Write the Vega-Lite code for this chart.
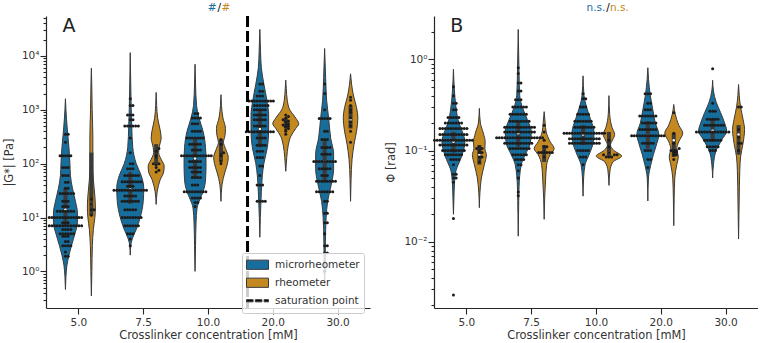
{"$schema":"https://vega.github.io/schema/vega-lite/v6.json","background":"white","padding":{"left":3,"top":2,"right":0,"bottom":0},"bounds":"flush","spacing":64,
"config":{"view":{"stroke":null},"font":"DejaVu Sans","axis":{"grid":false,"domainColor":"#262626","domainWidth":1.2,"tickColor":"#262626","tickWidth":1.1,"labelColor":"#333333","titleColor":"#333333","labelFont":"DejaVu Sans","titleFont":"DejaVu Sans","labelFontSize":10.5,"titleFontSize":11.4,"titleFontWeight":"normal","labelOverlap":false,"labelFlush":false}},
"datasets":{
"violinA":[
{"c":5,"d":"m","v":0.46,"w":0},{"c":5,"d":"m","v":0.8,"w":0.5},{"c":5,"d":"m","v":1.3,"w":1.5},{"c":5,"d":"m","v":2,"w":3.5},{"c":5,"d":"m","v":3,"w":6},{"c":5,"d":"m","v":5,"w":9.5},{"c":5,"d":"m","v":8,"w":12},{"c":5,"d":"m","v":12,"w":12},{"c":5,"d":"m","v":20,"w":10},{"c":5,"d":"m","v":35,"w":7},{"c":5,"d":"m","v":60,"w":5},{"c":5,"d":"m","v":100,"w":4.5},{"c":5,"d":"m","v":200,"w":3.5},{"c":5,"d":"m","v":400,"w":2},{"c":5,"d":"m","v":700,"w":1},{"c":5,"d":"m","v":1000,"w":0.5},{"c":5,"d":"m","v":1600,"w":0},
{"c":5,"d":"r","v":0.35,"w":0},{"c":5,"d":"r","v":1,"w":0.5},{"c":5,"d":"r","v":3,"w":1},{"c":5,"d":"r","v":6,"w":2},{"c":5,"d":"r","v":10,"w":3.5},{"c":5,"d":"r","v":15,"w":4},{"c":5,"d":"r","v":25,"w":3.5},{"c":5,"d":"r","v":50,"w":2},{"c":5,"d":"r","v":100,"w":1.5},{"c":5,"d":"r","v":300,"w":1.5},{"c":5,"d":"r","v":1000,"w":0.8},{"c":5,"d":"r","v":3000,"w":0.4},{"c":5,"d":"r","v":5900,"w":0},
{"c":7.5,"d":"m","v":2,"w":0},{"c":7.5,"d":"m","v":3,"w":0.5},{"c":7.5,"d":"m","v":4,"w":2},{"c":7.5,"d":"m","v":6,"w":6},{"c":7.5,"d":"m","v":10,"w":10},{"c":7.5,"d":"m","v":20,"w":13},{"c":7.5,"d":"m","v":35,"w":13.5},{"c":7.5,"d":"m","v":60,"w":11},{"c":7.5,"d":"m","v":100,"w":6},{"c":7.5,"d":"m","v":200,"w":2.5},{"c":7.5,"d":"m","v":500,"w":1.5},{"c":7.5,"d":"m","v":1000,"w":1},{"c":7.5,"d":"m","v":3000,"w":0.5},{"c":7.5,"d":"m","v":11500,"w":0},
{"c":7.5,"d":"r","v":17.5,"w":0},{"c":7.5,"d":"r","v":30,"w":1},{"c":7.5,"d":"r","v":50,"w":4},{"c":7.5,"d":"r","v":70,"w":7.5},{"c":7.5,"d":"r","v":90,"w":8},{"c":7.5,"d":"r","v":120,"w":5},{"c":7.5,"d":"r","v":160,"w":2.5},{"c":7.5,"d":"r","v":200,"w":3},{"c":7.5,"d":"r","v":300,"w":5},{"c":7.5,"d":"r","v":420,"w":4},{"c":7.5,"d":"r","v":700,"w":1.5},{"c":7.5,"d":"r","v":1200,"w":0.5},{"c":7.5,"d":"r","v":2100,"w":0},
{"c":10,"d":"m","v":1,"w":0},{"c":10,"d":"m","v":3,"w":0.5},{"c":10,"d":"m","v":8,"w":1},{"c":10,"d":"m","v":15,"w":2},{"c":10,"d":"m","v":22,"w":5},{"c":10,"d":"m","v":30,"w":8},{"c":10,"d":"m","v":50,"w":10.5},{"c":10,"d":"m","v":100,"w":11},{"c":10,"d":"m","v":200,"w":10.5},{"c":10,"d":"m","v":400,"w":8},{"c":10,"d":"m","v":700,"w":4},{"c":10,"d":"m","v":1200,"w":1.5},{"c":10,"d":"m","v":3000,"w":0.5},{"c":10,"d":"m","v":7000,"w":0},
{"c":10,"d":"r","v":20,"w":0},{"c":10,"d":"r","v":40,"w":1},{"c":10,"d":"r","v":70,"w":4},{"c":10,"d":"r","v":100,"w":6.5},{"c":10,"d":"r","v":130,"w":7.3},{"c":10,"d":"r","v":190,"w":4.5},{"c":10,"d":"r","v":250,"w":2.5},{"c":10,"d":"r","v":330,"w":4},{"c":10,"d":"r","v":450,"w":4.5},{"c":10,"d":"r","v":700,"w":2},{"c":10,"d":"r","v":1200,"w":0.5},{"c":10,"d":"r","v":1900,"w":0},
{"c":20,"d":"m","v":4.3,"w":0},{"c":20,"d":"m","v":10,"w":0.5},{"c":20,"d":"m","v":30,"w":1.5},{"c":20,"d":"m","v":60,"w":2.5},{"c":20,"d":"m","v":100,"w":4},{"c":20,"d":"m","v":200,"w":7.5},{"c":20,"d":"m","v":400,"w":8.8},{"c":20,"d":"m","v":800,"w":8.8},{"c":20,"d":"m","v":1500,"w":7},{"c":20,"d":"m","v":3000,"w":4},{"c":20,"d":"m","v":6000,"w":1.5},{"c":20,"d":"m","v":12000,"w":0.7},{"c":20,"d":"m","v":31000,"w":0},
{"c":20,"d":"r","v":72,"w":0},{"c":20,"d":"r","v":130,"w":1},{"c":20,"d":"r","v":220,"w":2.5},{"c":20,"d":"r","v":320,"w":5},{"c":20,"d":"r","v":450,"w":10},{"c":20,"d":"r","v":550,"w":13},{"c":20,"d":"r","v":700,"w":10},{"c":20,"d":"r","v":1000,"w":4},{"c":20,"d":"r","v":1500,"w":1.5},{"c":20,"d":"r","v":2500,"w":0.5},{"c":20,"d":"r","v":3550,"w":0},
{"c":30,"d":"m","v":0.57,"w":0},{"c":30,"d":"m","v":1,"w":0.4},{"c":30,"d":"m","v":3,"w":0.7},{"c":30,"d":"m","v":6,"w":1},{"c":30,"d":"m","v":10,"w":1.5},{"c":30,"d":"m","v":20,"w":3},{"c":30,"d":"m","v":40,"w":6.5},{"c":30,"d":"m","v":80,"w":9},{"c":30,"d":"m","v":150,"w":9},{"c":30,"d":"m","v":300,"w":6},{"c":30,"d":"m","v":700,"w":4},{"c":30,"d":"m","v":1500,"w":2},{"c":30,"d":"m","v":4000,"w":1},{"c":30,"d":"m","v":13700,"w":0},
{"c":30,"d":"r","v":20,"w":0},{"c":30,"d":"r","v":50,"w":0.5},{"c":30,"d":"r","v":120,"w":1.5},{"c":30,"d":"r","v":230,"w":3.5},{"c":30,"d":"r","v":400,"w":6},{"c":30,"d":"r","v":700,"w":7.3},{"c":30,"d":"r","v":1100,"w":6},{"c":30,"d":"r","v":1800,"w":3},{"c":30,"d":"r","v":3000,"w":1},{"c":30,"d":"r","v":4650,"w":0}],
"violinB":[
{"c":5,"d":"m","v":0.02,"w":0},{"c":5,"d":"m","v":0.03,"w":0.5},{"c":5,"d":"m","v":0.043,"w":1},{"c":5,"d":"m","v":0.06,"w":2.5},{"c":5,"d":"m","v":0.08,"w":7},{"c":5,"d":"m","v":0.1,"w":10},{"c":5,"d":"m","v":0.125,"w":11.5},{"c":5,"d":"m","v":0.16,"w":9},{"c":5,"d":"m","v":0.2,"w":5.5},{"c":5,"d":"m","v":0.3,"w":2.5},{"c":5,"d":"m","v":0.45,"w":1},{"c":5,"d":"m","v":0.78,"w":0},
{"c":5,"d":"r","v":0.0236,"w":0},{"c":5,"d":"r","v":0.035,"w":0.6},{"c":5,"d":"r","v":0.05,"w":2},{"c":5,"d":"r","v":0.07,"w":5},{"c":5,"d":"r","v":0.09,"w":7},{"c":5,"d":"r","v":0.105,"w":5.5},{"c":5,"d":"r","v":0.125,"w":5.8},{"c":5,"d":"r","v":0.155,"w":4},{"c":5,"d":"r","v":0.2,"w":1},{"c":5,"d":"r","v":0.29,"w":0},
{"c":7.5,"d":"m","v":0.0115,"w":0},{"c":7.5,"d":"m","v":0.02,"w":0.3},{"c":7.5,"d":"m","v":0.04,"w":0.8},{"c":7.5,"d":"m","v":0.07,"w":3},{"c":7.5,"d":"m","v":0.09,"w":7},{"c":7.5,"d":"m","v":0.12,"w":12},{"c":7.5,"d":"m","v":0.16,"w":13},{"c":7.5,"d":"m","v":0.22,"w":9},{"c":7.5,"d":"m","v":0.3,"w":4},{"c":7.5,"d":"m","v":0.4,"w":1.5},{"c":7.5,"d":"m","v":0.7,"w":0.8},{"c":7.5,"d":"m","v":1.2,"w":0.4},{"c":7.5,"d":"m","v":2.13,"w":0},
{"c":7.5,"d":"r","v":0.0176,"w":0},{"c":7.5,"d":"r","v":0.03,"w":0.5},{"c":7.5,"d":"r","v":0.05,"w":1.5},{"c":7.5,"d":"r","v":0.07,"w":2.5},{"c":7.5,"d":"r","v":0.09,"w":6},{"c":7.5,"d":"r","v":0.105,"w":10},{"c":7.5,"d":"r","v":0.125,"w":6},{"c":7.5,"d":"r","v":0.16,"w":2},{"c":7.5,"d":"r","v":0.2,"w":1},{"c":7.5,"d":"r","v":0.267,"w":0},
{"c":10,"d":"m","v":0.0316,"w":0},{"c":10,"d":"m","v":0.05,"w":0.6},{"c":10,"d":"m","v":0.07,"w":2},{"c":10,"d":"m","v":0.09,"w":6},{"c":10,"d":"m","v":0.12,"w":10},{"c":10,"d":"m","v":0.16,"w":11},{"c":10,"d":"m","v":0.22,"w":7.5},{"c":10,"d":"m","v":0.3,"w":3.5},{"c":10,"d":"m","v":0.4,"w":1},{"c":10,"d":"m","v":0.66,"w":0},
{"c":10,"d":"r","v":0.0415,"w":0},{"c":10,"d":"r","v":0.06,"w":1},{"c":10,"d":"r","v":0.075,"w":4},{"c":10,"d":"r","v":0.087,"w":12.7},{"c":10,"d":"r","v":0.1,"w":5},{"c":10,"d":"r","v":0.115,"w":1.5},{"c":10,"d":"r","v":0.13,"w":3.5},{"c":10,"d":"r","v":0.15,"w":5.7},{"c":10,"d":"r","v":0.18,"w":3},{"c":10,"d":"r","v":0.25,"w":0.7},{"c":10,"d":"r","v":0.4,"w":0},
{"c":20,"d":"m","v":0.028,"w":0},{"c":20,"d":"m","v":0.05,"w":0.6},{"c":20,"d":"m","v":0.07,"w":3},{"c":20,"d":"m","v":0.09,"w":5.5},{"c":20,"d":"m","v":0.12,"w":9},{"c":20,"d":"m","v":0.15,"w":11},{"c":20,"d":"m","v":0.2,"w":7.5},{"c":20,"d":"m","v":0.28,"w":5},{"c":20,"d":"m","v":0.4,"w":2.5},{"c":20,"d":"m","v":0.6,"w":0.7},{"c":20,"d":"m","v":0.81,"w":0},
{"c":20,"d":"r","v":0.015,"w":0},{"c":20,"d":"r","v":0.03,"w":0.4},{"c":20,"d":"r","v":0.05,"w":1},{"c":20,"d":"r","v":0.07,"w":3},{"c":20,"d":"r","v":0.085,"w":4.5},{"c":20,"d":"r","v":0.105,"w":3},{"c":20,"d":"r","v":0.125,"w":5},{"c":20,"d":"r","v":0.155,"w":9},{"c":20,"d":"r","v":0.19,"w":5},{"c":20,"d":"r","v":0.25,"w":1.5},{"c":20,"d":"r","v":0.32,"w":0},
{"c":30,"d":"m","v":0.05,"w":0},{"c":30,"d":"m","v":0.07,"w":0.8},{"c":30,"d":"m","v":0.1,"w":3.5},{"c":30,"d":"m","v":0.13,"w":9},{"c":30,"d":"m","v":0.165,"w":14},{"c":30,"d":"m","v":0.2,"w":12},{"c":30,"d":"m","v":0.26,"w":8},{"c":30,"d":"m","v":0.34,"w":3.5},{"c":30,"d":"m","v":0.45,"w":0.8},{"c":30,"d":"m","v":0.59,"w":0},
{"c":30,"d":"r","v":0.0107,"w":0},{"c":30,"d":"r","v":0.02,"w":0.4},{"c":30,"d":"r","v":0.04,"w":0.8},{"c":30,"d":"r","v":0.06,"w":1.2},{"c":30,"d":"r","v":0.085,"w":2},{"c":30,"d":"r","v":0.12,"w":4.5},{"c":30,"d":"r","v":0.17,"w":6},{"c":30,"d":"r","v":0.22,"w":4.5},{"c":30,"d":"r","v":0.3,"w":2},{"c":30,"d":"r","v":0.4,"w":0.7},{"c":30,"d":"r","v":0.53,"w":0}],
"boxA":[{"c":5,"d":"m","q1":7,"q3":35,"med":14},{"c":5,"d":"r","q1":11,"q3":160,"med":18},{"c":7.5,"d":"m","q1":18,"q3":70,"med":33},{"c":7.5,"d":"r","q1":100,"q3":230,"med":130},{"c":10,"d":"m","q1":55,"q3":300,"med":125},{"c":10,"d":"r","q1":110,"q3":280,"med":150},{"c":20,"d":"m","q1":200,"q3":1000,"med":440},{"c":20,"d":"r","q1":450,"q3":700,"med":550},{"c":30,"d":"m","q1":45,"q3":280,"med":110},{"c":30,"d":"r","q1":450,"q3":1200,"med":650}],
"boxB":[{"c":5,"d":"m","q1":0.095,"q3":0.16,"med":0.125},{"c":5,"d":"r","q1":0.07,"q3":0.115,"med":0.09},{"c":7.5,"d":"m","q1":0.11,"q3":0.21,"med":0.155},{"c":7.5,"d":"r","q1":0.075,"q3":0.115,"med":0.1},{"c":10,"d":"m","q1":0.115,"q3":0.19,"med":0.15},{"c":10,"d":"r","q1":0.085,"q3":0.16,"med":0.095},{"c":20,"d":"m","q1":0.105,"q3":0.21,"med":0.145},{"c":20,"d":"r","q1":0.085,"q3":0.155,"med":0.13},{"c":30,"d":"m","q1":0.125,"q3":0.22,"med":0.165},{"c":30,"d":"r","q1":0.09,"q3":0.19,"med":0.15}],
"pointsA":[
{"c":5,"d":"m","v":1.9},{"c":5,"d":"m","v":1.9},{"c":5,"d":"m","v":2.3},{"c":5,"d":"m","v":3},{"c":5,"d":"m","v":3},{"c":5,"d":"m","v":3},{"c":5,"d":"m","v":3},{"c":5,"d":"m","v":3.6},{"c":5,"d":"m","v":3.6},{"c":5,"d":"m","v":4.5},{"c":5,"d":"m","v":4.5},{"c":5,"d":"m","v":4.5},{"c":5,"d":"m","v":5},{"c":5,"d":"m","v":5},{"c":5,"d":"m","v":5},{"c":5,"d":"m","v":5},{"c":5,"d":"m","v":5},{"c":5,"d":"m","v":5},{"c":5,"d":"m","v":6},{"c":5,"d":"m","v":6},{"c":5,"d":"m","v":6},{"c":5,"d":"m","v":6},
{"c":5,"d":"m","v":7},{"c":5,"d":"m","v":7},{"c":5,"d":"m","v":7},{"c":5,"d":"m","v":7},{"c":5,"d":"m","v":7},{"c":5,"d":"m","v":7},{"c":5,"d":"m","v":7},{"c":5,"d":"m","v":7},{"c":5,"d":"m","v":7},{"c":5,"d":"m","v":7},{"c":5,"d":"m","v":7},{"c":5,"d":"m","v":7},{"c":5,"d":"m","v":7},{"c":5,"d":"m","v":8},{"c":5,"d":"m","v":8},{"c":5,"d":"m","v":8},
{"c":5,"d":"m","v":10},{"c":5,"d":"m","v":10},{"c":5,"d":"m","v":10},{"c":5,"d":"m","v":10},{"c":5,"d":"m","v":10},{"c":5,"d":"m","v":10},{"c":5,"d":"m","v":10},{"c":5,"d":"m","v":10},{"c":5,"d":"m","v":10},{"c":5,"d":"m","v":10},{"c":5,"d":"m","v":10},{"c":5,"d":"m","v":10},{"c":5,"d":"m","v":10},{"c":5,"d":"m","v":13},{"c":5,"d":"m","v":13},{"c":5,"d":"m","v":13},{"c":5,"d":"m","v":13},{"c":5,"d":"m","v":13},{"c":5,"d":"m","v":13},{"c":5,"d":"m","v":13},{"c":5,"d":"m","v":16},{"c":5,"d":"m","v":16},{"c":5,"d":"m","v":16},{"c":5,"d":"m","v":20},{"c":5,"d":"m","v":20},{"c":5,"d":"m","v":20},
{"c":5,"d":"m","v":28},{"c":5,"d":"m","v":28},{"c":5,"d":"m","v":28},{"c":5,"d":"m","v":28},{"c":5,"d":"m","v":28},{"c":5,"d":"m","v":28},{"c":5,"d":"m","v":35},{"c":5,"d":"m","v":35},{"c":5,"d":"m","v":45},{"c":5,"d":"m","v":45},{"c":5,"d":"m","v":60},{"c":5,"d":"m","v":60},{"c":5,"d":"m","v":60},{"c":5,"d":"m","v":85},{"c":5,"d":"m","v":85},{"c":5,"d":"m","v":85},{"c":5,"d":"m","v":140},{"c":5,"d":"m","v":140},{"c":5,"d":"m","v":140},{"c":5,"d":"m","v":140},{"c":5,"d":"m","v":140},{"c":5,"d":"m","v":250},{"c":5,"d":"m","v":350},{"c":5,"d":"m","v":350},
{"c":5,"d":"r","v":11},{"c":5,"d":"r","v":14},{"c":5,"d":"r","v":14},{"c":5,"d":"r","v":18},{"c":5,"d":"r","v":22},
{"c":7.5,"d":"m","v":3},{"c":7.5,"d":"m","v":4},{"c":7.5,"d":"m","v":5},{"c":7.5,"d":"m","v":5},{"c":7.5,"d":"m","v":5},{"c":7.5,"d":"m","v":7},{"c":7.5,"d":"m","v":7},{"c":7.5,"d":"m","v":7},{"c":7.5,"d":"m","v":7},{"c":7.5,"d":"m","v":7},{"c":7.5,"d":"m","v":7},{"c":7.5,"d":"m","v":10},{"c":7.5,"d":"m","v":10},{"c":7.5,"d":"m","v":10},{"c":7.5,"d":"m","v":10},{"c":7.5,"d":"m","v":10},{"c":7.5,"d":"m","v":10},{"c":7.5,"d":"m","v":10},{"c":7.5,"d":"m","v":10},{"c":7.5,"d":"m","v":14},{"c":7.5,"d":"m","v":14},{"c":7.5,"d":"m","v":14},{"c":7.5,"d":"m","v":14},{"c":7.5,"d":"m","v":14},{"c":7.5,"d":"m","v":20},{"c":7.5,"d":"m","v":20},{"c":7.5,"d":"m","v":20},{"c":7.5,"d":"m","v":20},{"c":7.5,"d":"m","v":20},{"c":7.5,"d":"m","v":20},{"c":7.5,"d":"m","v":20},{"c":7.5,"d":"m","v":25},{"c":7.5,"d":"m","v":25},{"c":7.5,"d":"m","v":25},{"c":7.5,"d":"m","v":25},{"c":7.5,"d":"m","v":25},
{"c":7.5,"d":"m","v":32},{"c":7.5,"d":"m","v":32},{"c":7.5,"d":"m","v":32},{"c":7.5,"d":"m","v":32},{"c":7.5,"d":"m","v":32},{"c":7.5,"d":"m","v":32},{"c":7.5,"d":"m","v":32},{"c":7.5,"d":"m","v":32},{"c":7.5,"d":"m","v":32},{"c":7.5,"d":"m","v":32},{"c":7.5,"d":"m","v":32},{"c":7.5,"d":"m","v":32},{"c":7.5,"d":"m","v":32},{"c":7.5,"d":"m","v":38},{"c":7.5,"d":"m","v":38},{"c":7.5,"d":"m","v":38},{"c":7.5,"d":"m","v":46},{"c":7.5,"d":"m","v":46},{"c":7.5,"d":"m","v":46},{"c":7.5,"d":"m","v":46},{"c":7.5,"d":"m","v":46},{"c":7.5,"d":"m","v":46},{"c":7.5,"d":"m","v":46},{"c":7.5,"d":"m","v":46},{"c":7.5,"d":"m","v":60},{"c":7.5,"d":"m","v":60},{"c":7.5,"d":"m","v":60},{"c":7.5,"d":"m","v":60},{"c":7.5,"d":"m","v":60},{"c":7.5,"d":"m","v":60},{"c":7.5,"d":"m","v":80},{"c":7.5,"d":"m","v":80},{"c":7.5,"d":"m","v":80},{"c":7.5,"d":"m","v":100},{"c":7.5,"d":"m","v":100},{"c":7.5,"d":"m","v":160},{"c":7.5,"d":"m","v":300},{"c":7.5,"d":"m","v":500},{"c":7.5,"d":"m","v":500},{"c":7.5,"d":"m","v":500},{"c":7.5,"d":"m","v":500},{"c":7.5,"d":"m","v":500},{"c":7.5,"d":"m","v":500},{"c":7.5,"d":"m","v":650},{"c":7.5,"d":"m","v":650},{"c":7.5,"d":"m","v":800},{"c":7.5,"d":"m","v":800},{"c":7.5,"d":"m","v":800},{"c":7.5,"d":"m","v":1200},{"c":7.5,"d":"m","v":1200},{"c":7.5,"d":"m","v":1600},
{"c":7.5,"d":"r","v":70},{"c":7.5,"d":"r","v":75},{"c":7.5,"d":"r","v":85},{"c":7.5,"d":"r","v":95},{"c":7.5,"d":"r","v":100},{"c":7.5,"d":"r","v":100},{"c":7.5,"d":"r","v":130},{"c":7.5,"d":"r","v":140},{"c":7.5,"d":"r","v":170},{"c":7.5,"d":"r","v":190},
{"c":10,"d":"m","v":16},{"c":10,"d":"m","v":19},{"c":10,"d":"m","v":19},{"c":10,"d":"m","v":23},{"c":10,"d":"m","v":23},{"c":10,"d":"m","v":23},{"c":10,"d":"m","v":23},{"c":10,"d":"m","v":30},{"c":10,"d":"m","v":30},{"c":10,"d":"m","v":30},{"c":10,"d":"m","v":30},{"c":10,"d":"m","v":30},{"c":10,"d":"m","v":30},{"c":10,"d":"m","v":30},{"c":10,"d":"m","v":30},{"c":10,"d":"m","v":30},{"c":10,"d":"m","v":40},{"c":10,"d":"m","v":40},{"c":10,"d":"m","v":40},{"c":10,"d":"m","v":55},{"c":10,"d":"m","v":55},{"c":10,"d":"m","v":55},{"c":10,"d":"m","v":55},{"c":10,"d":"m","v":70},{"c":10,"d":"m","v":70},{"c":10,"d":"m","v":70},{"c":10,"d":"m","v":70},{"c":10,"d":"m","v":85},{"c":10,"d":"m","v":85},{"c":10,"d":"m","v":85},{"c":10,"d":"m","v":85},{"c":10,"d":"m","v":85},{"c":10,"d":"m","v":110},{"c":10,"d":"m","v":110},{"c":10,"d":"m","v":110},{"c":10,"d":"m","v":110},{"c":10,"d":"m","v":110},
{"c":10,"d":"m","v":140},{"c":10,"d":"m","v":140},{"c":10,"d":"m","v":140},{"c":10,"d":"m","v":140},{"c":10,"d":"m","v":140},{"c":10,"d":"m","v":140},{"c":10,"d":"m","v":140},{"c":10,"d":"m","v":140},{"c":10,"d":"m","v":140},{"c":10,"d":"m","v":140},{"c":10,"d":"m","v":140},{"c":10,"d":"m","v":140},{"c":10,"d":"m","v":180},{"c":10,"d":"m","v":180},{"c":10,"d":"m","v":180},{"c":10,"d":"m","v":180},{"c":10,"d":"m","v":230},{"c":10,"d":"m","v":230},{"c":10,"d":"m","v":230},{"c":10,"d":"m","v":230},{"c":10,"d":"m","v":230},{"c":10,"d":"m","v":300},{"c":10,"d":"m","v":300},{"c":10,"d":"m","v":300},{"c":10,"d":"m","v":300},{"c":10,"d":"m","v":300},{"c":10,"d":"m","v":300},{"c":10,"d":"m","v":300},{"c":10,"d":"m","v":400},{"c":10,"d":"m","v":400},{"c":10,"d":"m","v":400},{"c":10,"d":"m","v":400},{"c":10,"d":"m","v":550},{"c":10,"d":"m","v":550},{"c":10,"d":"m","v":550},{"c":10,"d":"m","v":700},{"c":10,"d":"m","v":700},{"c":10,"d":"m","v":700},{"c":10,"d":"m","v":700},{"c":10,"d":"m","v":850},{"c":10,"d":"m","v":850},
{"c":10,"d":"r","v":100},{"c":10,"d":"r","v":110},{"c":10,"d":"r","v":140},{"c":10,"d":"r","v":150},{"c":10,"d":"r","v":160},{"c":10,"d":"r","v":230},{"c":10,"d":"r","v":280},
{"c":20,"d":"m","v":20},{"c":20,"d":"m","v":20},{"c":20,"d":"m","v":20},{"c":20,"d":"m","v":20},{"c":20,"d":"m","v":40},{"c":20,"d":"m","v":40},{"c":20,"d":"m","v":40},{"c":20,"d":"m","v":60},{"c":20,"d":"m","v":90},{"c":20,"d":"m","v":90},{"c":20,"d":"m","v":130},{"c":20,"d":"m","v":130},{"c":20,"d":"m","v":130},{"c":20,"d":"m","v":170},{"c":20,"d":"m","v":170},{"c":20,"d":"m","v":170},{"c":20,"d":"m","v":220},{"c":20,"d":"m","v":220},{"c":20,"d":"m","v":220},{"c":20,"d":"m","v":220},{"c":20,"d":"m","v":300},{"c":20,"d":"m","v":300},{"c":20,"d":"m","v":300},{"c":20,"d":"m","v":300},{"c":20,"d":"m","v":390},{"c":20,"d":"m","v":390},{"c":20,"d":"m","v":390},{"c":20,"d":"m","v":390},{"c":20,"d":"m","v":390},{"c":20,"d":"m","v":390},{"c":20,"d":"m","v":390},{"c":20,"d":"m","v":390},{"c":20,"d":"m","v":390},{"c":20,"d":"m","v":390},{"c":20,"d":"m","v":390},{"c":20,"d":"m","v":500},{"c":20,"d":"m","v":500},{"c":20,"d":"m","v":500},{"c":20,"d":"m","v":500},{"c":20,"d":"m","v":500},{"c":20,"d":"m","v":650},{"c":20,"d":"m","v":650},{"c":20,"d":"m","v":650},{"c":20,"d":"m","v":650},{"c":20,"d":"m","v":650},{"c":20,"d":"m","v":800},{"c":20,"d":"m","v":800},{"c":20,"d":"m","v":800},{"c":20,"d":"m","v":800},{"c":20,"d":"m","v":800},{"c":20,"d":"m","v":1000},{"c":20,"d":"m","v":1000},{"c":20,"d":"m","v":1000},{"c":20,"d":"m","v":1000},{"c":20,"d":"m","v":1000},{"c":20,"d":"m","v":1200},{"c":20,"d":"m","v":1200},{"c":20,"d":"m","v":1200},{"c":20,"d":"m","v":1200},{"c":20,"d":"m","v":1200},{"c":20,"d":"m","v":1200},{"c":20,"d":"m","v":1450},{"c":20,"d":"m","v":1450},{"c":20,"d":"m","v":1450},{"c":20,"d":"m","v":1450},{"c":20,"d":"m","v":1450},{"c":20,"d":"m","v":1450},{"c":20,"d":"m","v":1450},{"c":20,"d":"m","v":1450},{"c":20,"d":"m","v":1450},{"c":20,"d":"m","v":1450},{"c":20,"d":"m","v":1800},{"c":20,"d":"m","v":1800},{"c":20,"d":"m","v":1800},{"c":20,"d":"m","v":2200},{"c":20,"d":"m","v":2200},{"c":20,"d":"m","v":3000},{"c":20,"d":"m","v":3000},
{"c":20,"d":"r","v":350},{"c":20,"d":"r","v":400},{"c":20,"d":"r","v":420},{"c":20,"d":"r","v":450},{"c":20,"d":"r","v":480},{"c":20,"d":"r","v":500},{"c":20,"d":"r","v":520},{"c":20,"d":"r","v":540},{"c":20,"d":"r","v":550},{"c":20,"d":"r","v":600},{"c":20,"d":"r","v":620},{"c":20,"d":"r","v":650},{"c":20,"d":"r","v":700},{"c":20,"d":"r","v":750},{"c":20,"d":"r","v":800},
{"c":30,"d":"m","v":1},{"c":30,"d":"m","v":1.5},{"c":30,"d":"m","v":2.2},{"c":30,"d":"m","v":2.2},{"c":30,"d":"m","v":3},{"c":30,"d":"m","v":3},{"c":30,"d":"m","v":5},{"c":30,"d":"m","v":8},{"c":30,"d":"m","v":8},{"c":30,"d":"m","v":12},{"c":30,"d":"m","v":12},{"c":30,"d":"m","v":20},{"c":30,"d":"m","v":20},{"c":30,"d":"m","v":30},{"c":30,"d":"m","v":30},{"c":30,"d":"m","v":30},{"c":30,"d":"m","v":30},{"c":30,"d":"m","v":30},{"c":30,"d":"m","v":30},{"c":30,"d":"m","v":30},{"c":30,"d":"m","v":47},{"c":30,"d":"m","v":47},{"c":30,"d":"m","v":47},{"c":30,"d":"m","v":47},{"c":30,"d":"m","v":47},{"c":30,"d":"m","v":47},{"c":30,"d":"m","v":47},{"c":30,"d":"m","v":47},{"c":30,"d":"m","v":60},{"c":30,"d":"m","v":60},{"c":30,"d":"m","v":60},{"c":30,"d":"m","v":80},{"c":30,"d":"m","v":80},{"c":30,"d":"m","v":80},{"c":30,"d":"m","v":80},{"c":30,"d":"m","v":80},{"c":30,"d":"m","v":110},{"c":30,"d":"m","v":110},{"c":30,"d":"m","v":110},{"c":30,"d":"m","v":110},{"c":30,"d":"m","v":110},{"c":30,"d":"m","v":110},{"c":30,"d":"m","v":110},{"c":30,"d":"m","v":110},{"c":30,"d":"m","v":110},{"c":30,"d":"m","v":150},{"c":30,"d":"m","v":150},{"c":30,"d":"m","v":150},{"c":30,"d":"m","v":150},{"c":30,"d":"m","v":200},{"c":30,"d":"m","v":200},{"c":30,"d":"m","v":200},{"c":30,"d":"m","v":200},{"c":30,"d":"m","v":280},{"c":30,"d":"m","v":280},{"c":30,"d":"m","v":280},{"c":30,"d":"m","v":400},{"c":30,"d":"m","v":400},{"c":30,"d":"m","v":690},{"c":30,"d":"m","v":690},{"c":30,"d":"m","v":690},{"c":30,"d":"m","v":690},{"c":30,"d":"m","v":690},{"c":30,"d":"m","v":1000},{"c":30,"d":"m","v":2000},{"c":30,"d":"m","v":3000},
{"c":30,"d":"r","v":250},{"c":30,"d":"r","v":400},{"c":30,"d":"r","v":500},{"c":30,"d":"r","v":600},{"c":30,"d":"r","v":700},{"c":30,"d":"r","v":900},{"c":30,"d":"r","v":1000},{"c":30,"d":"r","v":1200},{"c":30,"d":"r","v":1500},{"c":30,"d":"r","v":1700}],
"pointsB":[
{"c":5,"d":"m","v":0.0026},{"c":5,"d":"m","v":0.018},{"c":5,"d":"m","v":0.045},{"c":5,"d":"m","v":0.05},{"c":5,"d":"m","v":0.05},{"c":5,"d":"m","v":0.055},{"c":5,"d":"m","v":0.055},{"c":5,"d":"m","v":0.07},{"c":5,"d":"m","v":0.08},{"c":5,"d":"m","v":0.08},{"c":5,"d":"m","v":0.08},{"c":5,"d":"m","v":0.08},{"c":5,"d":"m","v":0.09},{"c":5,"d":"m","v":0.09},{"c":5,"d":"m","v":0.09},{"c":5,"d":"m","v":0.09},{"c":5,"d":"m","v":0.09},{"c":5,"d":"m","v":0.09},{"c":5,"d":"m","v":0.09},{"c":5,"d":"m","v":0.1},{"c":5,"d":"m","v":0.1},{"c":5,"d":"m","v":0.1},{"c":5,"d":"m","v":0.1},{"c":5,"d":"m","v":0.1},{"c":5,"d":"m","v":0.1},{"c":5,"d":"m","v":0.1},{"c":5,"d":"m","v":0.1},{"c":5,"d":"m","v":0.1},{"c":5,"d":"m","v":0.115},{"c":5,"d":"m","v":0.115},{"c":5,"d":"m","v":0.115},{"c":5,"d":"m","v":0.115},{"c":5,"d":"m","v":0.115},{"c":5,"d":"m","v":0.115},{"c":5,"d":"m","v":0.115},{"c":5,"d":"m","v":0.115},{"c":5,"d":"m","v":0.115},{"c":5,"d":"m","v":0.115},{"c":5,"d":"m","v":0.115},{"c":5,"d":"m","v":0.13},{"c":5,"d":"m","v":0.13},{"c":5,"d":"m","v":0.13},{"c":5,"d":"m","v":0.13},{"c":5,"d":"m","v":0.13},{"c":5,"d":"m","v":0.13},{"c":5,"d":"m","v":0.13},{"c":5,"d":"m","v":0.13},{"c":5,"d":"m","v":0.13},{"c":5,"d":"m","v":0.13},{"c":5,"d":"m","v":0.13},{"c":5,"d":"m","v":0.13},{"c":5,"d":"m","v":0.13},{"c":5,"d":"m","v":0.13},{"c":5,"d":"m","v":0.13},{"c":5,"d":"m","v":0.15},{"c":5,"d":"m","v":0.15},{"c":5,"d":"m","v":0.15},{"c":5,"d":"m","v":0.15},{"c":5,"d":"m","v":0.15},{"c":5,"d":"m","v":0.15},{"c":5,"d":"m","v":0.15},{"c":5,"d":"m","v":0.15},{"c":5,"d":"m","v":0.15},{"c":5,"d":"m","v":0.15},{"c":5,"d":"m","v":0.15},{"c":5,"d":"m","v":0.175},{"c":5,"d":"m","v":0.175},{"c":5,"d":"m","v":0.175},{"c":5,"d":"m","v":0.175},{"c":5,"d":"m","v":0.175},{"c":5,"d":"m","v":0.175},{"c":5,"d":"m","v":0.175},{"c":5,"d":"m","v":0.175},{"c":5,"d":"m","v":0.175},{"c":5,"d":"m","v":0.175},{"c":5,"d":"m","v":0.175},{"c":5,"d":"m","v":0.2},{"c":5,"d":"m","v":0.2},{"c":5,"d":"m","v":0.2},{"c":5,"d":"m","v":0.2},{"c":5,"d":"m","v":0.2},{"c":5,"d":"m","v":0.2},{"c":5,"d":"m","v":0.2},{"c":5,"d":"m","v":0.23},{"c":5,"d":"m","v":0.23},{"c":5,"d":"m","v":0.23},{"c":5,"d":"m","v":0.23},{"c":5,"d":"m","v":0.23},{"c":5,"d":"m","v":0.28},{"c":5,"d":"m","v":0.28},{"c":5,"d":"m","v":0.33},{"c":5,"d":"m","v":0.33},{"c":5,"d":"m","v":0.4},{"c":5,"d":"m","v":0.5},
{"c":5,"d":"r","v":0.075},{"c":5,"d":"r","v":0.085},{"c":5,"d":"r","v":0.085},{"c":5,"d":"r","v":0.095},{"c":5,"d":"r","v":0.095},{"c":5,"d":"r","v":0.1},{"c":5,"d":"r","v":0.105},{"c":5,"d":"r","v":0.105},{"c":5,"d":"r","v":0.11},
{"c":7.5,"d":"m","v":0.032},{"c":7.5,"d":"m","v":0.035},{"c":7.5,"d":"m","v":0.05},{"c":7.5,"d":"m","v":0.06},{"c":7.5,"d":"m","v":0.07},{"c":7.5,"d":"m","v":0.07},{"c":7.5,"d":"m","v":0.08},{"c":7.5,"d":"m","v":0.08},{"c":7.5,"d":"m","v":0.08},{"c":7.5,"d":"m","v":0.08},{"c":7.5,"d":"m","v":0.09},{"c":7.5,"d":"m","v":0.09},{"c":7.5,"d":"m","v":0.09},{"c":7.5,"d":"m","v":0.09},{"c":7.5,"d":"m","v":0.09},{"c":7.5,"d":"m","v":0.09},{"c":7.5,"d":"m","v":0.105},{"c":7.5,"d":"m","v":0.105},{"c":7.5,"d":"m","v":0.105},{"c":7.5,"d":"m","v":0.105},{"c":7.5,"d":"m","v":0.105},{"c":7.5,"d":"m","v":0.105},{"c":7.5,"d":"m","v":0.105},{"c":7.5,"d":"m","v":0.105},{"c":7.5,"d":"m","v":0.12},{"c":7.5,"d":"m","v":0.12},{"c":7.5,"d":"m","v":0.12},{"c":7.5,"d":"m","v":0.12},{"c":7.5,"d":"m","v":0.12},{"c":7.5,"d":"m","v":0.12},{"c":7.5,"d":"m","v":0.12},{"c":7.5,"d":"m","v":0.12},{"c":7.5,"d":"m","v":0.12},{"c":7.5,"d":"m","v":0.12},{"c":7.5,"d":"m","v":0.12},{"c":7.5,"d":"m","v":0.138},{"c":7.5,"d":"m","v":0.138},{"c":7.5,"d":"m","v":0.138},{"c":7.5,"d":"m","v":0.138},{"c":7.5,"d":"m","v":0.138},{"c":7.5,"d":"m","v":0.138},{"c":7.5,"d":"m","v":0.138},{"c":7.5,"d":"m","v":0.138},{"c":7.5,"d":"m","v":0.138},{"c":7.5,"d":"m","v":0.138},{"c":7.5,"d":"m","v":0.138},{"c":7.5,"d":"m","v":0.138},{"c":7.5,"d":"m","v":0.138},{"c":7.5,"d":"m","v":0.138},{"c":7.5,"d":"m","v":0.138},{"c":7.5,"d":"m","v":0.138},{"c":7.5,"d":"m","v":0.138},{"c":7.5,"d":"m","v":0.138},{"c":7.5,"d":"m","v":0.16},{"c":7.5,"d":"m","v":0.16},{"c":7.5,"d":"m","v":0.16},{"c":7.5,"d":"m","v":0.16},{"c":7.5,"d":"m","v":0.16},{"c":7.5,"d":"m","v":0.16},{"c":7.5,"d":"m","v":0.16},{"c":7.5,"d":"m","v":0.16},{"c":7.5,"d":"m","v":0.16},{"c":7.5,"d":"m","v":0.16},{"c":7.5,"d":"m","v":0.16},{"c":7.5,"d":"m","v":0.16},{"c":7.5,"d":"m","v":0.18},{"c":7.5,"d":"m","v":0.18},{"c":7.5,"d":"m","v":0.18},{"c":7.5,"d":"m","v":0.18},{"c":7.5,"d":"m","v":0.18},{"c":7.5,"d":"m","v":0.18},{"c":7.5,"d":"m","v":0.18},{"c":7.5,"d":"m","v":0.18},{"c":7.5,"d":"m","v":0.18},{"c":7.5,"d":"m","v":0.18},{"c":7.5,"d":"m","v":0.18},{"c":7.5,"d":"m","v":0.18},{"c":7.5,"d":"m","v":0.21},{"c":7.5,"d":"m","v":0.21},{"c":7.5,"d":"m","v":0.21},{"c":7.5,"d":"m","v":0.21},{"c":7.5,"d":"m","v":0.21},{"c":7.5,"d":"m","v":0.21},{"c":7.5,"d":"m","v":0.21},{"c":7.5,"d":"m","v":0.21},{"c":7.5,"d":"m","v":0.25},{"c":7.5,"d":"m","v":0.25},{"c":7.5,"d":"m","v":0.25},{"c":7.5,"d":"m","v":0.25},{"c":7.5,"d":"m","v":0.25},{"c":7.5,"d":"m","v":0.25},{"c":7.5,"d":"m","v":0.25},{"c":7.5,"d":"m","v":0.3},{"c":7.5,"d":"m","v":0.3},{"c":7.5,"d":"m","v":0.3},{"c":7.5,"d":"m","v":0.3},{"c":7.5,"d":"m","v":0.3},{"c":7.5,"d":"m","v":0.3},{"c":7.5,"d":"m","v":0.36},{"c":7.5,"d":"m","v":0.36},{"c":7.5,"d":"m","v":0.36},{"c":7.5,"d":"m","v":0.45},{"c":7.5,"d":"m","v":0.45},{"c":7.5,"d":"m","v":0.55},{"c":7.5,"d":"m","v":0.55},{"c":7.5,"d":"m","v":0.7},{"c":7.5,"d":"m","v":0.81},
{"c":7.5,"d":"r","v":0.085},{"c":7.5,"d":"r","v":0.095},{"c":7.5,"d":"r","v":0.095},{"c":7.5,"d":"r","v":0.095},{"c":7.5,"d":"r","v":0.095},{"c":7.5,"d":"r","v":0.095},{"c":7.5,"d":"r","v":0.095},{"c":7.5,"d":"r","v":0.1},{"c":7.5,"d":"r","v":0.11},{"c":7.5,"d":"r","v":0.11},{"c":7.5,"d":"r","v":0.13},{"c":7.5,"d":"r","v":0.16},{"c":7.5,"d":"r","v":0.19},
{"c":10,"d":"m","v":0.07},{"c":10,"d":"m","v":0.085},{"c":10,"d":"m","v":0.085},{"c":10,"d":"m","v":0.085},{"c":10,"d":"m","v":0.1},{"c":10,"d":"m","v":0.1},{"c":10,"d":"m","v":0.1},{"c":10,"d":"m","v":0.1},{"c":10,"d":"m","v":0.1},{"c":10,"d":"m","v":0.12},{"c":10,"d":"m","v":0.12},{"c":10,"d":"m","v":0.12},{"c":10,"d":"m","v":0.12},{"c":10,"d":"m","v":0.12},{"c":10,"d":"m","v":0.12},{"c":10,"d":"m","v":0.12},{"c":10,"d":"m","v":0.12},{"c":10,"d":"m","v":0.12},{"c":10,"d":"m","v":0.12},{"c":10,"d":"m","v":0.12},{"c":10,"d":"m","v":0.12},{"c":10,"d":"m","v":0.135},{"c":10,"d":"m","v":0.135},{"c":10,"d":"m","v":0.135},{"c":10,"d":"m","v":0.135},{"c":10,"d":"m","v":0.135},{"c":10,"d":"m","v":0.135},{"c":10,"d":"m","v":0.135},{"c":10,"d":"m","v":0.135},{"c":10,"d":"m","v":0.135},{"c":10,"d":"m","v":0.135},{"c":10,"d":"m","v":0.135},{"c":10,"d":"m","v":0.135},{"c":10,"d":"m","v":0.155},{"c":10,"d":"m","v":0.155},{"c":10,"d":"m","v":0.155},{"c":10,"d":"m","v":0.155},{"c":10,"d":"m","v":0.155},{"c":10,"d":"m","v":0.155},{"c":10,"d":"m","v":0.155},{"c":10,"d":"m","v":0.155},{"c":10,"d":"m","v":0.155},{"c":10,"d":"m","v":0.155},{"c":10,"d":"m","v":0.155},{"c":10,"d":"m","v":0.155},{"c":10,"d":"m","v":0.155},{"c":10,"d":"m","v":0.155},{"c":10,"d":"m","v":0.155},{"c":10,"d":"m","v":0.155},{"c":10,"d":"m","v":0.18},{"c":10,"d":"m","v":0.18},{"c":10,"d":"m","v":0.18},{"c":10,"d":"m","v":0.18},{"c":10,"d":"m","v":0.18},{"c":10,"d":"m","v":0.18},{"c":10,"d":"m","v":0.18},{"c":10,"d":"m","v":0.18},{"c":10,"d":"m","v":0.21},{"c":10,"d":"m","v":0.21},{"c":10,"d":"m","v":0.21},{"c":10,"d":"m","v":0.21},{"c":10,"d":"m","v":0.21},{"c":10,"d":"m","v":0.21},{"c":10,"d":"m","v":0.21},{"c":10,"d":"m","v":0.25},{"c":10,"d":"m","v":0.25},{"c":10,"d":"m","v":0.25},{"c":10,"d":"m","v":0.25},{"c":10,"d":"m","v":0.25},{"c":10,"d":"m","v":0.3},{"c":10,"d":"m","v":0.3},{"c":10,"d":"m","v":0.3},{"c":10,"d":"m","v":0.37},{"c":10,"d":"m","v":0.37},{"c":10,"d":"m","v":0.42},
{"c":10,"d":"r","v":0.085},{"c":10,"d":"r","v":0.085},{"c":10,"d":"r","v":0.085},{"c":10,"d":"r","v":0.09},{"c":10,"d":"r","v":0.09},{"c":10,"d":"r","v":0.09},{"c":10,"d":"r","v":0.095},{"c":10,"d":"r","v":0.11},{"c":10,"d":"r","v":0.13},
{"c":20,"d":"m","v":0.065},{"c":20,"d":"m","v":0.08},{"c":20,"d":"m","v":0.08},{"c":20,"d":"m","v":0.1},{"c":20,"d":"m","v":0.1},{"c":20,"d":"m","v":0.1},{"c":20,"d":"m","v":0.12},{"c":20,"d":"m","v":0.12},{"c":20,"d":"m","v":0.12},{"c":20,"d":"m","v":0.12},{"c":20,"d":"m","v":0.12},{"c":20,"d":"m","v":0.145},{"c":20,"d":"m","v":0.145},{"c":20,"d":"m","v":0.145},{"c":20,"d":"m","v":0.145},{"c":20,"d":"m","v":0.145},{"c":20,"d":"m","v":0.145},{"c":20,"d":"m","v":0.145},{"c":20,"d":"m","v":0.145},{"c":20,"d":"m","v":0.145},{"c":20,"d":"m","v":0.145},{"c":20,"d":"m","v":0.145},{"c":20,"d":"m","v":0.145},{"c":20,"d":"m","v":0.145},{"c":20,"d":"m","v":0.17},{"c":20,"d":"m","v":0.17},{"c":20,"d":"m","v":0.17},{"c":20,"d":"m","v":0.17},{"c":20,"d":"m","v":0.17},{"c":20,"d":"m","v":0.17},{"c":20,"d":"m","v":0.17},{"c":20,"d":"m","v":0.2},{"c":20,"d":"m","v":0.2},{"c":20,"d":"m","v":0.2},{"c":20,"d":"m","v":0.2},{"c":20,"d":"m","v":0.2},{"c":20,"d":"m","v":0.2},{"c":20,"d":"m","v":0.24},{"c":20,"d":"m","v":0.24},{"c":20,"d":"m","v":0.24},{"c":20,"d":"m","v":0.24},{"c":20,"d":"m","v":0.24},{"c":20,"d":"m","v":0.24},{"c":20,"d":"m","v":0.24},{"c":20,"d":"m","v":0.28},{"c":20,"d":"m","v":0.28},{"c":20,"d":"m","v":0.28},{"c":20,"d":"m","v":0.33},{"c":20,"d":"m","v":0.33},{"c":20,"d":"m","v":0.42},{"c":20,"d":"m","v":0.42},{"c":20,"d":"m","v":0.42},
{"c":20,"d":"r","v":0.08},{"c":20,"d":"r","v":0.09},{"c":20,"d":"r","v":0.09},{"c":20,"d":"r","v":0.095},{"c":20,"d":"r","v":0.095},{"c":20,"d":"r","v":0.1},{"c":20,"d":"r","v":0.1},{"c":20,"d":"r","v":0.1},{"c":20,"d":"r","v":0.105},{"c":20,"d":"r","v":0.12},{"c":20,"d":"r","v":0.155},{"c":20,"d":"r","v":0.26},
{"c":30,"d":"m","v":0.1},{"c":30,"d":"m","v":0.1},{"c":30,"d":"m","v":0.1},{"c":30,"d":"m","v":0.11},{"c":30,"d":"m","v":0.11},{"c":30,"d":"m","v":0.11},{"c":30,"d":"m","v":0.11},{"c":30,"d":"m","v":0.11},{"c":30,"d":"m","v":0.13},{"c":30,"d":"m","v":0.13},{"c":30,"d":"m","v":0.13},{"c":30,"d":"m","v":0.13},{"c":30,"d":"m","v":0.13},{"c":30,"d":"m","v":0.13},{"c":30,"d":"m","v":0.13},{"c":30,"d":"m","v":0.16},{"c":30,"d":"m","v":0.16},{"c":30,"d":"m","v":0.16},{"c":30,"d":"m","v":0.16},{"c":30,"d":"m","v":0.16},{"c":30,"d":"m","v":0.16},{"c":30,"d":"m","v":0.16},{"c":30,"d":"m","v":0.16},{"c":30,"d":"m","v":0.16},{"c":30,"d":"m","v":0.16},{"c":30,"d":"m","v":0.16},{"c":30,"d":"m","v":0.16},{"c":30,"d":"m","v":0.16},{"c":30,"d":"m","v":0.19},{"c":30,"d":"m","v":0.19},{"c":30,"d":"m","v":0.19},{"c":30,"d":"m","v":0.19},{"c":30,"d":"m","v":0.19},{"c":30,"d":"m","v":0.19},{"c":30,"d":"m","v":0.19},{"c":30,"d":"m","v":0.19},{"c":30,"d":"m","v":0.22},{"c":30,"d":"m","v":0.22},{"c":30,"d":"m","v":0.22},{"c":30,"d":"m","v":0.22},{"c":30,"d":"m","v":0.22},{"c":30,"d":"m","v":0.27},{"c":30,"d":"m","v":0.27},{"c":30,"d":"m","v":0.27},{"c":30,"d":"m","v":0.33},{"c":30,"d":"m","v":0.79},
{"c":30,"d":"r","v":0.1},{"c":30,"d":"r","v":0.12},{"c":30,"d":"r","v":0.12},{"c":30,"d":"r","v":0.14},{"c":30,"d":"r","v":0.17},{"c":30,"d":"r","v":0.3},{"c":30,"d":"r","v":0.3}]
},
"hconcat":[
{"width":324,"height":292,"layer":[
{"data":{"name":"violinA"},"transform":[{"calculate":"indexof([5,7.5,10,20,30],datum.c)+(datum.d=='r'?0.2:-0.2)","as":"pos"},{"calculate":"datum.pos-datum.w/64.8","as":"left"},{"calculate":"datum.pos+datum.w/64.8","as":"right"}],
"mark":{"type":"area","orient":"horizontal","interpolate":"monotone","stroke":"#3a3a3a","strokeWidth":1,"opacity":1},
"encoding":{"x":{"field":"left","type":"quantitative","scale":{"domain":[-0.5,4.5],"nice":false,"zero":false},"axis":{"values":[0,1,2,3,4],"labelExpr":"['5.0','7.5','10.0','20.0','30.0'][datum.value]","title":"Crosslinker concentration [mM]","tickSize":6,"labelPadding":3,"titlePadding":2}},"x2":{"field":"right"},
"y":{"field":"v","type":"quantitative","scale":{"type":"log","domain":[0.209,55000],"nice":false},"axis":{"values":[0.3,0.4,0.5,0.6,0.7,0.8,0.9,1,2,3,4,5,6,7,8,9,10,20,30,40,50,60,70,80,90,100,200,300,400,500,600,700,800,900,1000,2000,3000,4000,5000,6000,7000,8000,9000,10000,20000,30000,40000,50000],"labelExpr":"datum.value==1?'10⁰':datum.value==10?'10¹':datum.value==100?'10²':datum.value==1000?'10³':datum.value==10000?'10⁴':''","tickSize":{"condition":{"test":"abs(round(log(datum.value)/LN10)-log(datum.value)/LN10)<0.000001","value":6},"value":3},"title":"|G*| [Pa]","titlePadding":7,"labelPadding":1}},
"color":{"field":"d","type":"nominal","scale":{"domain":["m","r","s"],"range":["#176d9c","#c38820","#000000"]},"legend":{"orient":"none","legendX":196,"legendY":237,"title":null,"fillColor":"rgba(255,255,255,0.8)","strokeColor":"#cccccc","cornerRadius":2,"padding":4,"clipHeight":15.5,"symbolSize":484,"symbolStrokeColor":"#3a3a3a","symbolStrokeWidth":1,"labelFontSize":10.5,"labelColor":"#333333","labelFont":"DejaVu Sans","labelOffset":6,"labelExpr":"datum.value=='m'?'microrheometer':datum.value=='r'?'rheometer':'saturation point'"}},"detail":{"field":"c"}}},
{"data":{"name":"boxA"},"transform":[{"calculate":"indexof([5,7.5,10,20,30],datum.c)+(datum.d=='r'?0.2:-0.2)","as":"pos"}],"mark":{"type":"rule","stroke":"#3a3a3a","strokeWidth":4},"encoding":{"x":{"field":"pos","type":"quantitative"},"y":{"field":"q1","type":"quantitative","scale":{"type":"log"}},"y2":{"field":"q3"}}},
{"data":{"name":"boxA"},"transform":[{"calculate":"indexof([5,7.5,10,20,30],datum.c)+(datum.d=='r'?0.2:-0.2)","as":"pos"}],"mark":{"type":"point","filled":true,"color":"white","size":6,"opacity":1},"encoding":{"x":{"field":"pos","type":"quantitative"},"y":{"field":"med","type":"quantitative","scale":{"type":"log"}}}},
{"data":{"name":"pointsA"},"transform":[{"calculate":"floor(log(datum.v)/LN10/0.055+0.5)","as":"bin"},{"window":[{"op":"row_number","as":"n"}],"groupby":["c","d","bin"]},{"calculate":"indexof([5,7.5,10,20,30],datum.c)+(datum.d=='r'?0.2:-0.2)+(datum.n%2==0?1:-1)*floor(datum.n/2)*0.0417","as":"sx"}],"mark":{"type":"point","filled":true,"color":"#1c1c1c","size":9,"opacity":1},"encoding":{"x":{"field":"sx","type":"quantitative"},"y":{"field":"v","type":"quantitative","scale":{"type":"log"}}}},
{"data":{"values":[{"sat":2.61}]},"mark":{"type":"rule","stroke":"#000000","strokeWidth":3,"strokeDash":[11,4]},"encoding":{"x":{"field":"sat","type":"quantitative"}}},
{"data":{"values":[{"t":"A","px":-0.145,"py":36000}]},"mark":{"type":"text","fontSize":19,"color":"#222222","font":"DejaVu Sans"},"encoding":{"x":{"field":"px","type":"quantitative"},"y":{"field":"py","type":"quantitative","scale":{"type":"log"}},"text":{"field":"t"}}},
{"data":{"values":[{"t":"#","d":"m","px":2.066,"py":77600},{"t":"/","d":"s","px":2.174,"py":77600},{"t":"#","d":"r","px":2.277,"py":77600}]},"mark":{"type":"text","fontSize":10.5,"font":"DejaVu Sans","clip":false},"encoding":{"x":{"field":"px","type":"quantitative"},"y":{"field":"py","type":"quantitative","scale":{"type":"log"}},"text":{"field":"t"},"color":{"field":"d","type":"nominal"}}},
{"data":{"values":[{"d":"m"},{"d":"r"},{"d":"s"}]},"transform":[{"filter":"false"}],"mark":{"type":"point","filled":true},"encoding":{"color":{"field":"d","type":"nominal"},"shape":{"field":"d","type":"nominal","scale":{"domain":["m","r","s"],"range":["M-1,-0.42H1V0.42H-1Z","M-1,-0.42H1V0.42H-1Z","M-1,-0.1H-0.4V0.1H-1ZM-0.2,-0.1H0.4V0.1H-0.2ZM0.6,-0.1H1V0.1H0.6Z"]},"legend":{"orient":"none","legendX":196,"legendY":237,"title":null,"fillColor":"rgba(255,255,255,0.8)","strokeColor":"#cccccc","cornerRadius":2,"padding":4,"clipHeight":15.5,"symbolSize":484,"symbolStrokeColor":"#3a3a3a","symbolStrokeWidth":1,"labelFontSize":10.5,"labelColor":"#333333","labelFont":"DejaVu Sans","labelOffset":6,"labelExpr":"datum.value=='m'?'microrheometer':datum.value=='r'?'rheometer':'saturation point'"}}}}
]},
{"width":324,"height":292,"layer":[
{"data":{"name":"violinB"},"transform":[{"calculate":"indexof([5,7.5,10,20,30],datum.c)+(datum.d=='r'?0.2:-0.2)","as":"pos"},{"calculate":"datum.pos-datum.w/64.8","as":"left"},{"calculate":"datum.pos+datum.w/64.8","as":"right"}],
"mark":{"type":"area","orient":"horizontal","interpolate":"monotone","stroke":"#3a3a3a","strokeWidth":1,"opacity":1},
"encoding":{"x":{"field":"left","type":"quantitative","scale":{"domain":[-0.5,4.5],"nice":false,"zero":false},"axis":{"values":[0,1,2,3,4],"labelExpr":"['5.0','7.5','10.0','20.0','30.0'][datum.value]","title":"Crosslinker concentration [mM]","tickSize":6,"labelPadding":3,"titlePadding":2}},"x2":{"field":"right"},
"y":{"field":"v","type":"quantitative","scale":{"type":"log","domain":[0.001875,2.99],"nice":false},"axis":{"values":[0.002,0.003,0.004,0.005,0.006,0.007,0.008,0.009,0.01,0.02,0.03,0.04,0.05,0.06,0.07,0.08,0.09,0.1,0.2,0.3,0.4,0.5,0.6,0.7,0.8,0.9,1,2],"labelExpr":"datum.value==1?'10⁰':datum.value==0.1?'10⁻¹':datum.value==0.01?'10⁻²':''","tickSize":{"condition":{"test":"abs(round(log(datum.value)/LN10)-log(datum.value)/LN10)<0.000001","value":6},"value":3},"title":"Φ [rad]","titlePadding":7,"labelPadding":1}},
"color":{"field":"d","type":"nominal","scale":{"domain":["m","r","s"],"range":["#176d9c","#c38820","#000000"]},"legend":null},"detail":{"field":"c"}}},
{"data":{"name":"boxB"},"transform":[{"calculate":"indexof([5,7.5,10,20,30],datum.c)+(datum.d=='r'?0.2:-0.2)","as":"pos"}],"mark":{"type":"rule","stroke":"#3a3a3a","strokeWidth":4},"encoding":{"x":{"field":"pos","type":"quantitative"},"y":{"field":"q1","type":"quantitative","scale":{"type":"log"}},"y2":{"field":"q3"}}},
{"data":{"name":"boxB"},"transform":[{"calculate":"indexof([5,7.5,10,20,30],datum.c)+(datum.d=='r'?0.2:-0.2)","as":"pos"}],"mark":{"type":"point","filled":true,"color":"white","size":6,"opacity":1},"encoding":{"x":{"field":"pos","type":"quantitative"},"y":{"field":"med","type":"quantitative","scale":{"type":"log"}}}},
{"data":{"name":"pointsB"},"transform":[{"calculate":"floor(log(datum.v)/LN10/0.033+0.5)","as":"bin"},{"window":[{"op":"row_number","as":"n"}],"groupby":["c","d","bin"]},{"calculate":"indexof([5,7.5,10,20,30],datum.c)+(datum.d=='r'?0.2:-0.2)+(datum.n%2==0?1:-1)*floor(datum.n/2)*0.0417","as":"sx"}],"mark":{"type":"point","filled":true,"color":"#1c1c1c","size":9,"opacity":1},"encoding":{"x":{"field":"sx","type":"quantitative"},"y":{"field":"v","type":"quantitative","scale":{"type":"log"}}}},
{"data":{"values":[{"t":"B","px":-0.149,"py":2.32}]},"mark":{"type":"text","fontSize":19,"color":"#222222","font":"DejaVu Sans"},"encoding":{"x":{"field":"px","type":"quantitative"},"y":{"field":"py","type":"quantitative","scale":{"type":"log"}},"text":{"field":"t"}}},
{"data":{"values":[{"t":"n.s.","d":"m","px":2.0,"py":3.65},{"t":"/","d":"s","px":2.185,"py":3.65},{"t":"n.s.","d":"r","px":2.36,"py":3.65}]},"mark":{"type":"text","fontSize":10.5,"font":"DejaVu Sans","clip":false},"encoding":{"x":{"field":"px","type":"quantitative"},"y":{"field":"py","type":"quantitative","scale":{"type":"log"}},"text":{"field":"t"},"color":{"field":"d","type":"nominal","legend":null}}}
]}
]}
